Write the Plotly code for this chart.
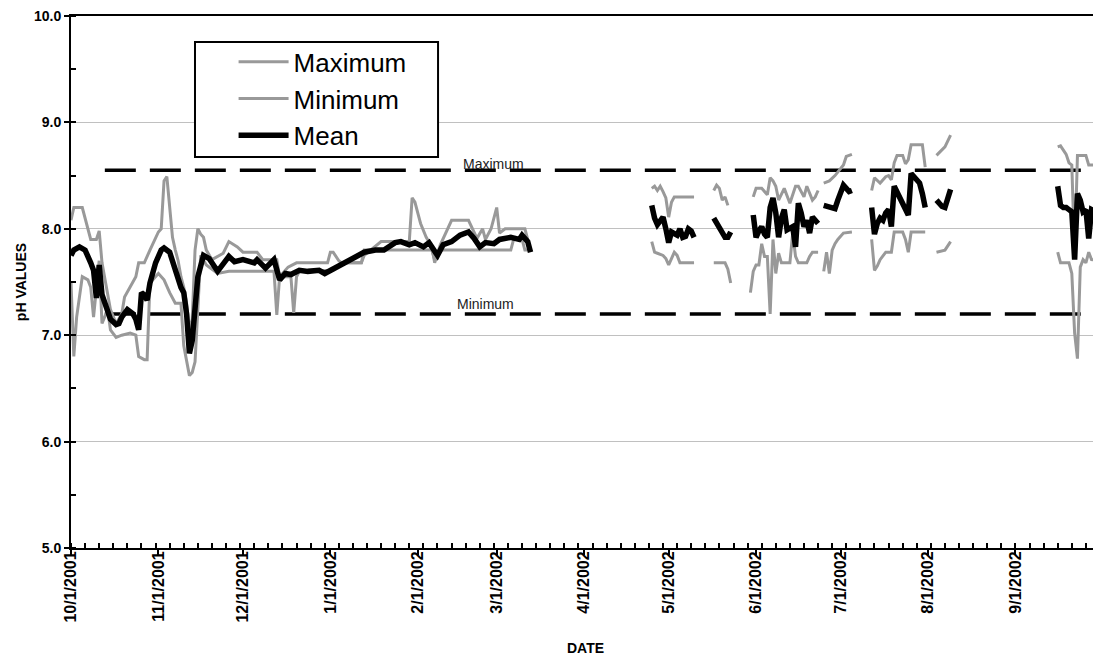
import pandas as pd
import plotly.graph_objects as go

START = pd.Timestamp("2001-10-01")
G = None  # gap marker

# ---- Data (day offset from 10/1/2001, pH) ----
mean_day = [0,1,3,5,7,8,9,10,11,13,14,16,17,18,20,22,23,24,25,26,27,28,30,32,33,35,37,39,40,41,42,43,44,45,47,49,
            52,56,58,61,65,66,69,72,74,76,78,81,84,88,90,94,97,100,104,108,111,115,117,120,122,125,127,130,132,135,
            138,141,143,145,147,150,152,156,159,160,162,163,
            185,
            206,207,208,209,210,211,212,213,214,215,216,217,218,219,220,221,
            224,
            228,229,230,231,232,233,234,
            238,
            242,243,244,245,246,247,248,249,250,251,252,253,254,255,256,257,258,259,260,261,262,263,264,265,
            266,
            267,268,269,270,271,272,273,274,275,276,277,
            280,
            284,285,286,287,288,289,290,291,292,293,294,295,296,297,298,299,300,301,302,303,
            305,
            307,308,309,310,311,312,
            330,
            350,351,352,353,354,355,356,357,358,359,360,361,362,363,364,365]
mean_ph = [7.75,7.80,7.83,7.80,7.68,7.61,7.35,7.66,7.38,7.21,7.15,7.10,7.11,7.17,7.24,7.20,7.15,7.05,7.40,7.38,7.33,7.49,7.68,7.80,7.82,7.78,7.61,7.45,7.40,7.20,6.83,6.95,7.25,7.55,7.75,7.72,
           7.60,7.74,7.69,7.71,7.68,7.71,7.63,7.71,7.52,7.58,7.57,7.61,7.60,7.61,7.58,7.64,7.68,7.72,7.78,7.80,7.80,7.87,7.88,7.85,7.87,7.83,7.87,7.75,7.85,7.88,
           7.94,7.97,7.91,7.83,7.87,7.86,7.90,7.92,7.90,7.94,7.88,7.78,
           G,
           8.22,8.10,8.04,8.08,8.11,8.00,7.87,7.97,7.95,7.94,8.00,7.92,7.93,8.00,7.98,7.92,
           G,
           8.10,8.05,8.00,7.97,7.92,7.92,7.97,
           G,
           8.13,7.92,7.98,8.02,7.95,7.92,8.20,8.29,8.15,7.92,8.10,8.18,7.99,8.00,8.02,7.83,8.24,8.15,8.02,8.08,7.96,8.11,8.08,8.05,
           G,
           8.22,8.21,8.21,8.20,8.19,8.27,8.36,8.41,8.38,8.35,8.36,
           G,
           8.20,7.95,8.05,8.10,8.08,8.15,8.18,8.02,8.40,8.35,8.30,8.25,8.18,8.13,8.52,8.49,8.46,8.43,8.33,8.20,
           G,
           8.27,8.24,8.21,8.20,8.30,8.37,
           G,
           8.40,8.22,8.20,8.20,8.18,8.16,7.71,8.33,8.27,8.16,8.18,7.91,8.18,8.16,8.15,8.15]

max_day = [0,1,4,6,7,9,10,11,13,14,16,18,19,21,23,24,26,28,30,31,32,33,34,35,36,37,38,39,40,41,42,43,44,45,46,47,48,
           50,54,56,59,61,66,68,73,74,77,80,91,92,93,95,96,103,104,110,120,121,122,123,124,126,128,129,131,135,141,
           144,146,147,149,151,152,154,161,162,
           185,
           206,207,208,209,210,211,212,213,214,221,
           224,
           228,229,230,231,232,233,
           238,
           242,243,245,247,248,249,250,251,253,255,257,258,260,261,263,264,265,
           266,
           267,269,271,272,274,275,277,
           280,
           284,285,287,289,290,291,292,293,295,296,297,298,302,303,
           305,
           307,309,310,312,
           330,
           350,351,352,353,354,355,356,357,360,361,365]
max_ph = [8.08,8.20,8.20,7.99,7.90,7.90,7.98,7.68,7.40,7.24,7.11,7.20,7.36,7.45,7.55,7.68,7.68,7.80,7.92,7.97,8.00,8.45,8.49,8.20,7.92,7.80,7.70,7.55,7.45,7.30,7.05,7.15,7.80,8.00,7.95,7.92,7.80,
          7.71,7.77,7.88,7.83,7.78,7.78,7.71,7.71,7.55,7.64,7.68,7.68,7.78,7.78,7.70,7.68,7.68,7.75,7.88,7.88,8.29,8.25,8.15,8.05,7.92,7.83,7.68,7.85,8.08,8.08,
          7.91,8.00,7.90,8.00,8.20,7.96,8.00,8.00,7.90,
          G,
          8.38,8.40,8.36,8.40,8.35,8.29,8.11,8.25,8.30,8.30,
          G,
          8.36,8.41,8.38,8.27,8.30,8.22,
          G,
          8.30,8.38,8.38,8.32,8.48,8.45,8.40,8.27,8.38,8.24,8.40,8.40,8.30,8.40,8.27,8.30,8.36,
          G,
          8.43,8.45,8.50,8.53,8.60,8.68,8.70,
          G,
          8.36,8.48,8.43,8.49,8.50,8.46,8.62,8.69,8.69,8.61,8.65,8.79,8.79,8.58,
          G,
          8.69,8.74,8.77,8.88,
          G,
          8.77,8.78,8.74,8.70,8.62,8.60,7.75,8.69,8.69,8.60,8.60]

min_day = [0,1,2,4,6,7,8,9,10,11,13,14,16,18,21,23,24,26,27,28,30,31,33,35,37,39,40,42,43,44,45,46,48,
           52,56,72,73,74,78,79,80,81,93,96,103,104,128,129,131,156,157,160,161,162,
           185,
           206,207,208,210,211,212,213,214,215,216,221,
           224,
           228,232,233,234,
           238,
           241,242,243,244,245,246,247,248,249,250,251,252,255,256,257,258,261,262,263,265,
           266,
           267,268,269,270,271,272,274,277,
           280,
           284,285,286,287,289,291,292,295,296,297,298,303,
           305,
           307,309,310,312,
           330,
           350,351,354,355,356,357,358,359,360,361,362,365]
min_ph = [7.50,6.80,7.17,7.55,7.52,7.45,7.17,7.45,7.70,7.11,7.24,7.05,6.98,7.00,7.02,7.00,6.80,6.77,6.77,7.49,7.55,7.58,7.52,7.40,7.30,7.30,6.90,6.62,6.65,6.75,7.25,7.75,7.66,
          7.58,7.60,7.60,7.19,7.55,7.55,7.21,7.55,7.60,7.61,7.68,7.68,7.80,7.80,7.71,7.80,7.80,7.90,7.90,7.80,7.80,
          G,
          7.88,7.78,7.77,7.75,7.72,7.66,7.72,7.78,7.75,7.68,7.68,
          G,
          7.68,7.68,7.62,7.49,
          G,
          7.40,7.60,7.66,7.66,7.86,7.74,7.74,7.20,7.90,7.58,7.77,7.68,7.68,7.96,7.74,7.68,7.68,7.74,7.78,7.78,
          G,
          7.60,7.78,7.58,7.80,7.86,7.90,7.96,7.97,
          G,
          7.90,7.61,7.65,7.71,7.78,7.78,7.97,7.97,7.90,7.78,7.97,7.97,
          G,
          7.78,7.79,7.80,7.88,
          G,
          7.78,7.68,7.68,7.58,7.02,6.78,7.64,7.71,7.68,7.78,7.71,7.70]

limit_max = 8.55
limit_min = 7.2
limit_days = [12, 365]
axis_end_day = 365


def to_dates(days):
    return [START + pd.Timedelta(days=d) for d in days]


FONT = "Arial, 'Liberation Sans', sans-serif"
GRAY = "#999999"

fig = go.Figure()

for val in (limit_max, limit_min):
    fig.add_trace(go.Scatter(
        x=to_dates(limit_days), y=[val, val], mode="lines",
        line=dict(color="black", width=3.5, dash="31px,14px"),
        showlegend=False, hoverinfo="skip"))

fig.add_trace(go.Scatter(x=to_dates(max_day), y=max_ph, mode="lines", name="Maximum",
                         line=dict(color=GRAY, width=3), connectgaps=False, legendgroup="a"))
fig.add_trace(go.Scatter(x=to_dates(min_day), y=min_ph, mode="lines", name="Minimum",
                         line=dict(color=GRAY, width=3), connectgaps=False, legendgroup="b"))
fig.add_trace(go.Scatter(x=to_dates(mean_day), y=mean_ph, mode="lines", name="Mean",
                         line=dict(color="black", width=5.5), connectgaps=False, legendgroup="c"))

fig.add_annotation(x=START + pd.Timedelta(days=150), y=limit_max, text="Maximum", showarrow=False,
                   yanchor="bottom", yshift=-4, font=dict(family=FONT, size=14, color="#222222"))
fig.add_annotation(x=START + pd.Timedelta(days=147), y=limit_min, text="Minimum", showarrow=False,
                   yanchor="bottom", yshift=0, font=dict(family=FONT, size=14, color="#222222"))

# legend frame
fig.add_shape(type="rect", xref="paper", yref="paper", x0=0.1205, x1=0.3567, y0=0.735, y1=0.951,
              line=dict(color="black", width=2), fillcolor="white", layer="above")

# the page body adds an 8px offset, so the figure is sized/margined to compensate
fig.update_layout(
    width=1093, height=654,
    margin=dict(l=63, r=1, t=8, b=114, autoexpand=False),
    plot_bgcolor="white", paper_bgcolor="white",
    font=dict(family=FONT, color="black"),
    legend=dict(x=0.158, y=0.958, xanchor="left", yanchor="top",
                bgcolor="rgba(0,0,0,0)", borderwidth=0,
                font=dict(family=FONT, size=26, color="black"),
                itemwidth=50, traceorder="grouped", tracegroupgap=0),
    xaxis=dict(
        type="date", automargin=False,
        range=[START, START + pd.Timedelta(days=axis_end_day)],
        showgrid=False, zeroline=False,
        showline=True, linecolor="black", linewidth=2, mirror=True,
        ticks="outside", ticklen=5, tickwidth=2, tickcolor="black",
        dtick="M1", tick0="2001-10-01", tickformat="%-m/%-d/%Y", tickangle=-90,
        ticklabelstandoff=-10,
        tickfont=dict(family=FONT, size=16, color="black", weight="bold"),
        minor=dict(dtick=5 * 86400000, tick0="2001-10-01", ticks="inside", ticklen=5,
                   tickwidth=2, tickcolor="black", showgrid=False),
        title=dict(text="DATE", standoff=22,
                   font=dict(family=FONT, size=14, color="black", weight="bold")),
    ),
    yaxis=dict(
        automargin=False,
        range=[5, 10], dtick=1, tick0=5, tickformat=".1f",
        ticklabeloverflow="allow",
        showgrid=True, gridcolor="#c0c0c0", gridwidth=1, zeroline=False,
        showline=True, linecolor="black", linewidth=2,
        ticks="outside", ticklen=5, tickwidth=2, tickcolor="black",
        tickfont=dict(family=FONT, size=14, color="black", weight="bold"),
        minor=dict(dtick=0.5, ticks="inside", ticklen=5, tickwidth=2, tickcolor="black", showgrid=False),
        title=dict(text="pH VALUES", standoff=4,
                   font=dict(family=FONT, size=14, color="black", weight="bold")),
    ),
)

fig.write_html("out.html")
